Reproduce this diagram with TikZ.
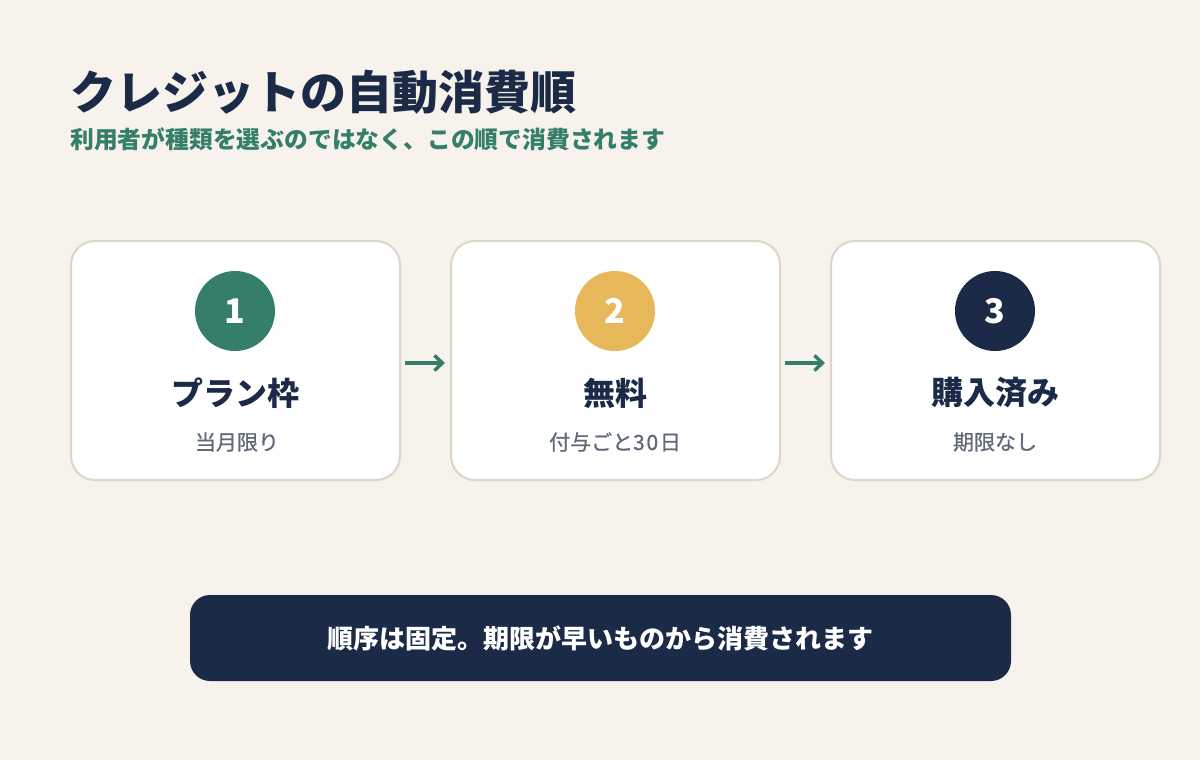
\documentclass[tikz,border=0pt]{standalone}
\usepackage{fontspec}
\setmainfont{Noto Sans CJK JP}
\newfontfamily\cjk{Noto Sans CJK JP}
\newfontfamily\cjkmed{Noto Sans CJK JP}[FakeBold=0.8]
\definecolor{bg}{HTML}{F7F3EC}
\definecolor{navy}{HTML}{1B2A47}
\definecolor{green}{HTML}{357E69}
\definecolor{gold}{HTML}{E6B85A}
\definecolor{cardline}{HTML}{DCD6CA}
\definecolor{subgray}{HTML}{5F6978}
\usetikzlibrary{arrows.meta}
\tikzset{
  card/.style={draw=cardline, line width=2pt, fill=white, rounded corners=24pt, minimum width=329pt, minimum height=239pt, inner sep=0pt},
  badge/.style={circle, minimum size=80pt, inner sep=0pt, text=white, font=\cjk\bfseries\fontsize{34}{38}\selectfont},
  ctitle/.style={text=navy, font=\cjk\bfseries\fontsize{32}{36}\selectfont, inner sep=0pt},
  csub/.style={text=subgray, font=\cjkmed\fontsize{21}{25}\selectfont, inner sep=0pt},
  flow/.style={draw=green, line width=3.5pt, -{Straight Barb[length=8pt,width=15pt,line width=3.5pt]}},
}
\begin{document}
\begin{tikzpicture}[x=1pt,y=-1pt]
\fill[bg] (0,0) rectangle (1200,760);
\useasboundingbox (0,0) rectangle (1200,760);
\node[anchor=west, inner sep=0pt, text=navy, font=\cjk\bfseries\fontsize{46}{50}\selectfont] (title) at (70,92) {クレジットの自動消費順};
\node[anchor=west, inner sep=0pt, text=green, font=\cjk\bfseries\fontsize{23.8}{28}\selectfont] (subtitle) at (70,139) {利用者が種類を選ぶのではなく、この順で消費されます};

\node[card] (c1) at (235.5,360.5) {};
\node[card] (c2) at (615.5,360.5) {};
\node[card] (c3) at (995.5,360.5) {};

\node[badge, fill=green] (b1) at (235,311) {\raisebox{-2pt}{1}};
\node[badge, fill=gold] (b2) at (615,311) {\raisebox{-2pt}{2}};
\node[badge, fill=navy] (b3) at (995,311) {\raisebox{-2pt}{3}};

\node[ctitle] (t1) at (235,393) {プラン枠};
\node[ctitle] (t2) at (615,393) {無料};
\node[ctitle] (t3) at (995,393) {購入済み};

\node[csub] (s1) at (237,442) {当月限り};
\node[csub] (s2) at (615,442) {付与ごと\addfontfeature{LetterSpace=8}30日};
\node[csub] (s3) at (995,442) {期限なし};

\coordinate (a1s) at (405,363);
\coordinate (a1e) at (445,363);
\coordinate (a2s) at (785,363);
\coordinate (a2e) at (825,363);
\draw[flow] (a1s) -- (a1e);
\draw[flow] (a2s) -- (a2e);

\node[fill=navy, rounded corners=20pt, minimum width=821pt, minimum height=86pt, inner sep=0pt, text=white, font=\cjk\bfseries\fontsize{26}{30}\selectfont] (banner) at (600.5,638) {順序は固定。期限が早いものから消費されます};
\end{tikzpicture}
\end{document}
